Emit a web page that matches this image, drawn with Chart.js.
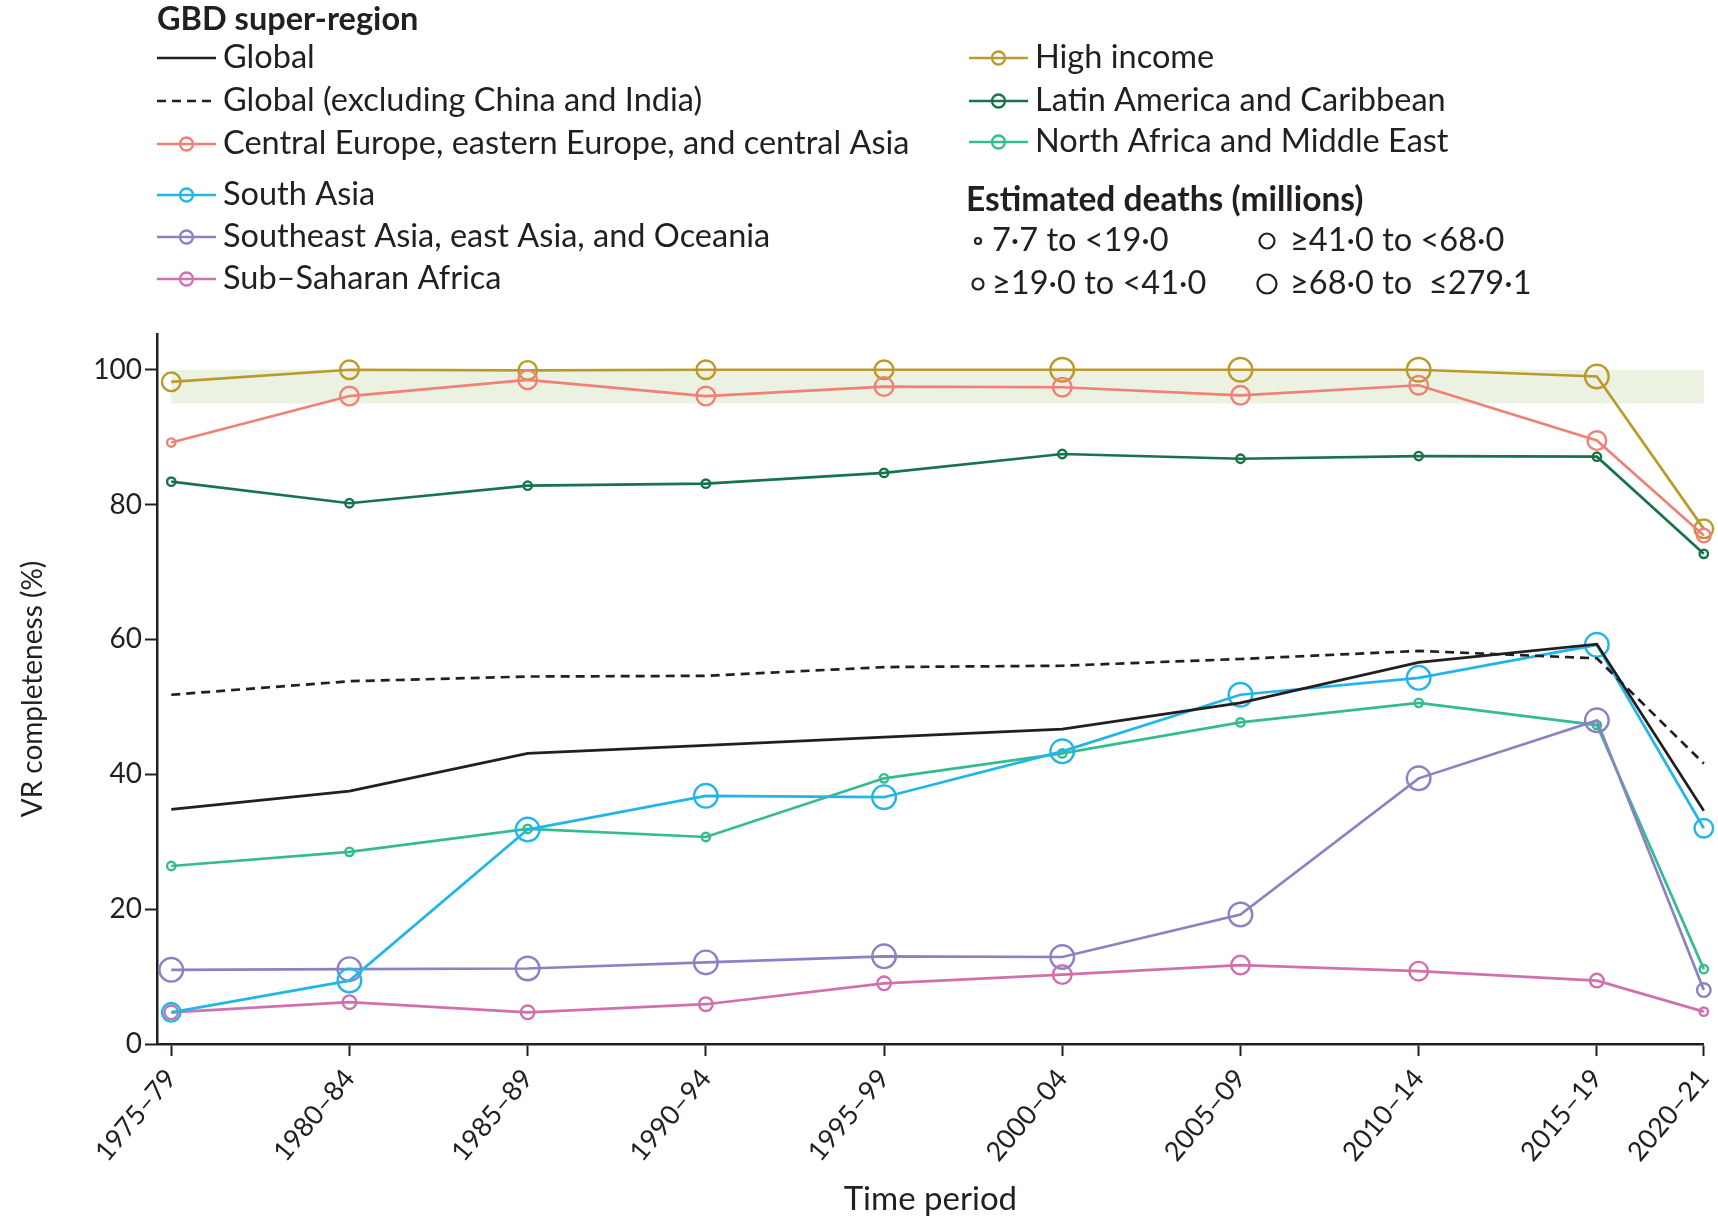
<!DOCTYPE html>
<html>
<head>
<meta charset="utf-8">
<script src="https://cdn.jsdelivr.net/npm/chart.js@4.4.1/dist/chart.umd.min.js"></script>
<style>
  html, body { margin: 0; padding: 0; background: #fff; }
  #wrap { width: 1718px; height: 1219px; }
</style>
</head>
<body>
<div id="wrap"><canvas id="chart" width="1718" height="1219"></canvas></div>
<script>
// time periods and where they sit on the year axis
const periods = ["1975–79", "1980–84", "1985–89", "1990–94", "1995–99", "2000–04", "2005–09", "2010–14", "2015–19", "2020–21"];
const periodMid = [1977, 1982, 1987, 1992, 1997, 2002, 2007, 2012, 2017, 2020];

// VR completeness (%)
const globalAll   = [34.8, 37.5, 43.1, 44.3, 45.5, 46.7, 50.6, 56.6, 59.3, 34.6];
const globalExCI  = [51.8, 53.8, 54.5, 54.6, 55.9, 56.1, 57.1, 58.3, 57.2, 41.6];
const centralEur  = [89.2, 96.1, 98.5, 96.1, 97.5, 97.4, 96.2, 97.7, 89.5, 75.4];
const southAsia   = [4.7, 9.4, 31.8, 36.8, 36.6, 43.4, 51.8, 54.3, 59.2, 32.0];
const seAsia      = [11.0, 11.1, 11.2, 12.1, 13.0, 12.9, 19.2, 39.4, 48.0, 8.0];
const subSaharan  = [4.7, 6.2, 4.7, 5.9, 9.0, 10.3, 11.7, 10.8, 9.4, 4.8];
const highIncome  = [98.2, 100, 99.9, 100, 100, 100, 100, 100, 99.0, 76.4];
const latinAm     = [83.4, 80.2, 82.8, 83.1, 84.7, 87.5, 86.8, 87.2, 87.1, 72.7];
const northAfrica = [26.4, 28.5, 31.9, 30.7, 39.4, 43.1, 47.7, 50.6, 47.3, 11.1];

// estimated deaths class per point (1 = 7.7 to <19, ... 4 = >=68)
const sizeCentralEur  = [1, 3, 3, 3, 3, 3, 3, 3, 3, 2];
const sizeSouthAsia   = [3, 4, 4, 4, 4, 4, 4, 4, 4, 3];
const sizeSeAsia      = [4, 4, 4, 4, 4, 4, 4, 4, 4, 2];
const sizeSubSaharan  = [2, 2, 2, 2, 2, 3, 3, 3, 2, 1];
const sizeHighIncome  = [3, 3, 3, 3, 3, 4, 4, 4, 4, 3];
const sizeLatinAm     = [1, 1, 1, 1, 1, 1, 1, 1, 1, 1];
const sizeNorthAfrica = [1, 1, 1, 1, 1, 1, 1, 1, 1, 1];

const yTicks = [0, 20, 40, 60, 80, 100];
const targetBand = [95, 100];
const sizeLabels = ["7·7 to <19·0", "≥19·0 to <41·0", "≥41·0 to <68·0", "≥68·0 to  ≤279·1"];

const ink = "#231f20";
const FONT = "Lato";
const radiusFor = [0, 4.2, 6.8, 9.3, 11.8];

Chart.defaults.font.family = FONT;
Chart.defaults.color = ink;

function pts(values) {
  return values.map((v, i) => ({ x: periodMid[i], y: v }));
}

function plainLine(label, values, dash) {
  return {
    label, data: pts(values),
    borderColor: ink, borderWidth: 2.7, borderDash: dash,
    pointRadius: 0, pointHoverRadius: 0, clip: false, tension: 0, fill: false
  };
}

function regionLine(label, values, sizes, color) {
  return {
    label, data: pts(values),
    borderColor: color, backgroundColor: "rgba(0,0,0,0)", borderWidth: 2.7,
    pointRadius: sizes.map(s => radiusFor[s]),
    pointHoverRadius: sizes.map(s => radiusFor[s]),
    pointBorderWidth: 2.4, pointBorderColor: color,
    pointBackgroundColor: "rgba(0,0,0,0)",
    clip: false, tension: 0, fill: false
  };
}

const datasets = [
  plainLine("Global", globalAll, []),
  plainLine("Global (excluding China and India)", globalExCI, [9, 6]),
  regionLine("Central Europe, eastern Europe, and central Asia", centralEur, sizeCentralEur, "#ef8176"),
  regionLine("South Asia", southAsia, sizeSouthAsia, "#22b6e8"),
  regionLine("Southeast Asia, east Asia, and Oceania", seAsia, sizeSeAsia, "#8b82c6"),
  regionLine("Sub–Saharan Africa", subSaharan, sizeSubSaharan, "#d26fae"),
  regionLine("High income", highIncome, sizeHighIncome, "#bb9a2c"),
  regionLine("Latin America and Caribbean", latinAm, sizeLatinAm, "#17734a"),
  regionLine("North Africa and Middle East", northAfrica, sizeNorthAfrica, "#35bb92")
];

// shaded band behind the lines
const bandPlugin = {
  id: "band",
  beforeDatasetsDraw(chart) {
    const { ctx, scales: { x, y } } = chart;
    const x0 = x.getPixelForValue(periodMid[0]);
    const x1 = x.getPixelForValue(periodMid[periodMid.length - 1]);
    const y0 = y.getPixelForValue(targetBand[1]);
    const y1 = y.getPixelForValue(targetBand[0]);
    ctx.save();
    ctx.fillStyle = "#ecf2e2";
    ctx.fillRect(x0, y0, x1 - x0, y1 - y0);
    ctx.restore();
  }
};

// legend block above the plot
const legendPlugin = {
  id: "gbdLegend",
  afterDraw(chart) {
    const ctx = chart.ctx;
    const ds = chart.data.datasets;
    ctx.save();
    ctx.textBaseline = "middle";
    ctx.textAlign = "left";
    ctx.fillStyle = ink;
    ctx.font = "bold 32.5px " + FONT;
    ctx.fillText("GBD super-region", 157, 20);
    ctx.font = "bold 33.5px " + FONT;
    ctx.fillText("Estimated deaths (millions)", 966, 200);

    const rows = [
      [0, 157, 58], [1, 157, 101], [2, 157, 144], [3, 157, 195], [4, 157, 237], [5, 157, 279],
      [6, 969, 58], [7, 969, 101], [8, 969, 142]
    ];
    rows.forEach(([i, lx, ly]) => {
      const d = ds[i];
      ctx.strokeStyle = d.borderColor;
      ctx.lineWidth = 2.5;
      ctx.setLineDash(d.borderDash || []);
      ctx.beginPath();
      ctx.moveTo(lx, ly);
      ctx.lineTo(lx + 59, ly);
      ctx.stroke();
      ctx.setLineDash([]);
      if (i > 1) {
        ctx.lineWidth = 2.3;
        ctx.beginPath();
        ctx.arc(lx + 29.5, ly, 6.5, 0, Math.PI * 2);
        ctx.stroke();
      }
      ctx.fillStyle = ink;
      ctx.font = "32.5px " + FONT;
      ctx.fillText(d.label, lx + 66, ly);
    });

    const sizeKeys = [[978, 241, 3], [978, 284, 5.5], [1267, 241, 7.5], [1267, 284, 9.5]];
    sizeKeys.forEach(([cx, cy, r], k) => {
      ctx.strokeStyle = ink;
      ctx.lineWidth = 2.2;
      ctx.beginPath();
      ctx.arc(cx, cy, r, 0, Math.PI * 2);
      ctx.stroke();
      ctx.fillStyle = ink;
      ctx.font = "32.5px " + FONT;
      ctx.fillText(sizeLabels[k], k < 2 ? 992 : 1290, cy);
    });
    ctx.restore();
  }
};

new Chart(document.getElementById("chart"), {
  type: "line",
  data: { datasets },
  plugins: [bandPlugin, legendPlugin],
  options: {
    responsive: false,
    animation: false,
    events: [],
    layout: { padding: { top: 334, left: 0, right: 11, bottom: 0 } },
    plugins: { legend: { display: false }, tooltip: { enabled: false } },
    scales: {
      x: {
        type: "linear",
        min: 1976.6,
        max: 2020,
        afterBuildTicks: s => { s.ticks = periodMid.map(v => ({ value: v })); },
        afterFit: s => { s.height = 175; s.paddingLeft = 0; s.paddingRight = 0; },
        ticks: {
          autoSkip: false, minRotation: 50, maxRotation: 50, padding: 7,
          font: { size: 27 }, color: ink,
          callback: (v, i) => periods[i]
        },
        grid: { drawOnChartArea: false, drawTicks: true, tickLength: 12, tickWidth: 2, tickColor: ink },
        border: { display: true, color: ink, width: 2.5 },
        title: { display: true, text: "Time period", font: { size: 33 }, color: ink, padding: { top: 0, bottom: 0 } }
      },
      y: {
        min: 0,
        max: 105.3,
        afterBuildTicks: s => { s.ticks = yTicks.map(v => ({ value: v })); },
        afterFit: s => { s.width = 157; },
        ticks: { font: { size: 28 }, color: ink, padding: 3 },
        grid: { drawOnChartArea: false, drawTicks: true, tickLength: 12, tickWidth: 2, tickColor: ink },
        border: { display: true, color: ink, width: 2.5 },
        title: { display: true, text: "VR completeness (%)", font: { size: 28 }, color: ink, padding: { top: 16, bottom: 0 } }
      }
    }
  }
});
</script>
</body>
</html>
